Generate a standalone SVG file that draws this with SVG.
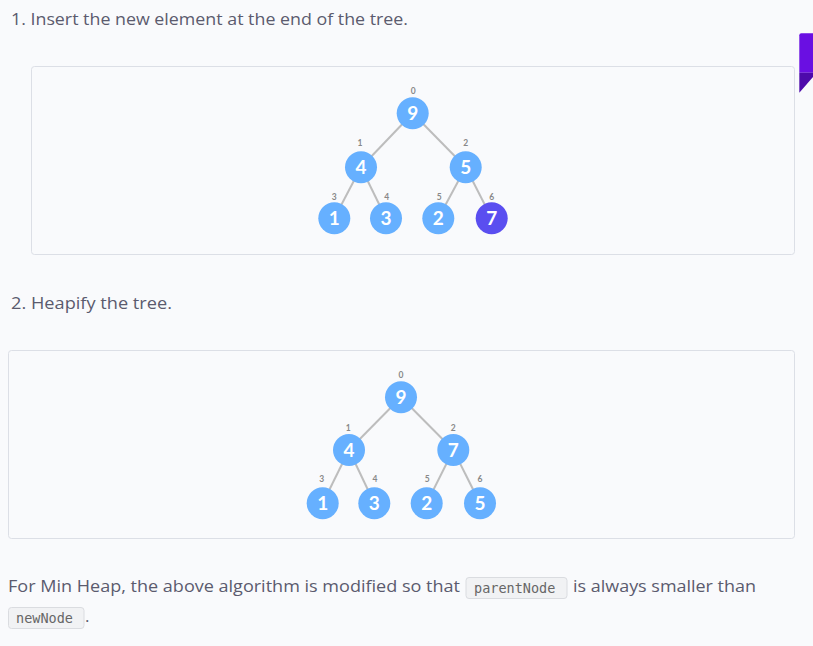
<svg xmlns="http://www.w3.org/2000/svg" width="813" height="646" viewBox="0 0 813 646">
<style>
.bg{fill:#f9fafc}
.panel{fill:#f9fafc;stroke:#dcdfe6;stroke-width:1}
.para{font-family:"Open Sans",Lato,sans-serif;font-size:17px;fill:#5b5b6e}
.code{fill:#f1f2f4;stroke:#dadce0;stroke-width:1}
.mono{font-family:"DejaVu Sans Mono","Liberation Mono",monospace;font-size:13.5px;fill:#666}
.edge{stroke:#bdbdbd;stroke-width:2;fill:none}
.n{fill:#66b0ff}
.hl{fill:#5a4ef0}
.v{font-family:Lato,"Open Sans",sans-serif;font-weight:bold;font-size:19px;fill:#fff;text-anchor:middle}
.idx{font-family:Lato,"Open Sans",sans-serif;font-weight:bold;font-size:8.5px;fill:#888;text-anchor:middle}
</style>
<rect class="bg" x="0" y="0" width="813" height="646"/>
<text class="para" x="11" y="25" textLength="397" lengthAdjust="spacingAndGlyphs">1. Insert the new element at the end of the tree.</text>
<g id="tab">
<path d="M801.3,33.3 H813 V72.7 H799.3 V35.3 Q799.3,33.3 801.3,33.3 Z" fill="#6a0fe2"/>
<path d="M799.3,72.7 H813 V77 L799.3,92.7 Z" fill="#4d0aab"/>
</g>
<rect class="panel" x="31.5" y="66.5" width="763" height="188" rx="3"/>
<text class="para" x="11" y="309" textLength="161" lengthAdjust="spacingAndGlyphs">2. Heapify the tree.</text>
<rect class="panel" x="8.5" y="350.5" width="786" height="188" rx="3"/>

<g id="connectors">
<line class="edge" x1="412.7" y1="113.3" x2="361" y2="167.3"/>
<line class="edge" x1="412.7" y1="113.3" x2="465.7" y2="167.3"/>
<line class="edge" x1="361" y1="167.3" x2="334.3" y2="218.3"/>
<line class="edge" x1="361" y1="167.3" x2="386" y2="218.3"/>
<line class="edge" x1="465.7" y1="167.3" x2="438.3" y2="218.3"/>
<line class="edge" x1="465.7" y1="167.3" x2="491.7" y2="218.3"/>
<line class="edge" x1="401" y1="397.3" x2="349" y2="450"/>
<line class="edge" x1="401" y1="397.3" x2="453.3" y2="450"/>
<line class="edge" x1="349" y1="450" x2="322.7" y2="503.3"/>
<line class="edge" x1="349" y1="450" x2="374.3" y2="503.3"/>
<line class="edge" x1="453.3" y1="450" x2="426.7" y2="503.3"/>
<line class="edge" x1="453.3" y1="450" x2="480" y2="503.3"/>
</g>

<g id="t1n0"><circle class="n" cx="412.7" cy="113.3" r="16"/><text class="v" x="412.7" y="120">9</text><text class="idx" x="413.3" y="94">0</text></g>
<g id="t1n1"><circle class="n" cx="361" cy="167.3" r="16"/><text class="v" x="361" y="174">4</text><text class="idx" x="360" y="145.7">1</text></g>
<g id="t1n2"><circle class="n" cx="465.7" cy="167.3" r="16"/><text class="v" x="465.7" y="174">5</text><text class="idx" x="465.7" y="145.7">2</text></g>
<g id="t1n3"><circle class="n" cx="334.3" cy="218.3" r="16"/><text class="v" x="334.3" y="225">1</text><text class="idx" x="334.3" y="199.7">3</text></g>
<g id="t1n4"><circle class="n" cx="386" cy="218.3" r="16"/><text class="v" x="386" y="225">3</text><text class="idx" x="386.7" y="199.7">4</text></g>
<g id="t1n5"><circle class="n" cx="438.3" cy="218.3" r="16"/><text class="v" x="438.3" y="225">2</text><text class="idx" x="439.3" y="199.7">5</text></g>
<g id="t1n6"><circle class="hl" cx="491.7" cy="218.3" r="16"/><text class="v" x="491.7" y="225">7</text><text class="idx" x="491.7" y="199.7">6</text></g>

<g id="t2n0"><circle class="n" cx="401" cy="397.3" r="16"/><text class="v" x="401" y="404">9</text><text class="idx" x="401" y="378">0</text></g>
<g id="t2n1"><circle class="n" cx="349" cy="450" r="16"/><text class="v" x="349" y="456.7">4</text><text class="idx" x="348.3" y="431.3">1</text></g>
<g id="t2n2"><circle class="n" cx="453.3" cy="450" r="16"/><text class="v" x="453.3" y="456.7">7</text><text class="idx" x="453.3" y="431.3">2</text></g>
<g id="t2n3"><circle class="n" cx="322.7" cy="503.3" r="16"/><text class="v" x="322.7" y="510">1</text><text class="idx" x="321.7" y="482.3">3</text></g>
<g id="t2n4"><circle class="n" cx="374.3" cy="503.3" r="16"/><text class="v" x="374.3" y="510">3</text><text class="idx" x="375" y="482.3">4</text></g>
<g id="t2n5"><circle class="n" cx="426.7" cy="503.3" r="16"/><text class="v" x="426.7" y="510">2</text><text class="idx" x="427.3" y="482.3">5</text></g>
<g id="t2n6"><circle class="n" cx="480" cy="503.3" r="16"/><text class="v" x="480" y="510">5</text><text class="idx" x="480" y="482.3">6</text></g>

<text class="para" x="8" y="592" textLength="452" lengthAdjust="spacingAndGlyphs">For Min Heap, the above algorithm is modified so that</text>
<rect class="code" x="466" y="577.5" width="101" height="21" rx="3"/>
<text class="mono" x="474" y="593">parentNode</text>
<text class="para" x="573" y="592" textLength="183" lengthAdjust="spacingAndGlyphs">is always smaller than</text>
<rect class="code" x="8.5" y="607.5" width="75.5" height="21" rx="3"/>
<text class="mono" x="16" y="623">newNode</text>
<text class="para" x="85" y="622">.</text>
</svg>
